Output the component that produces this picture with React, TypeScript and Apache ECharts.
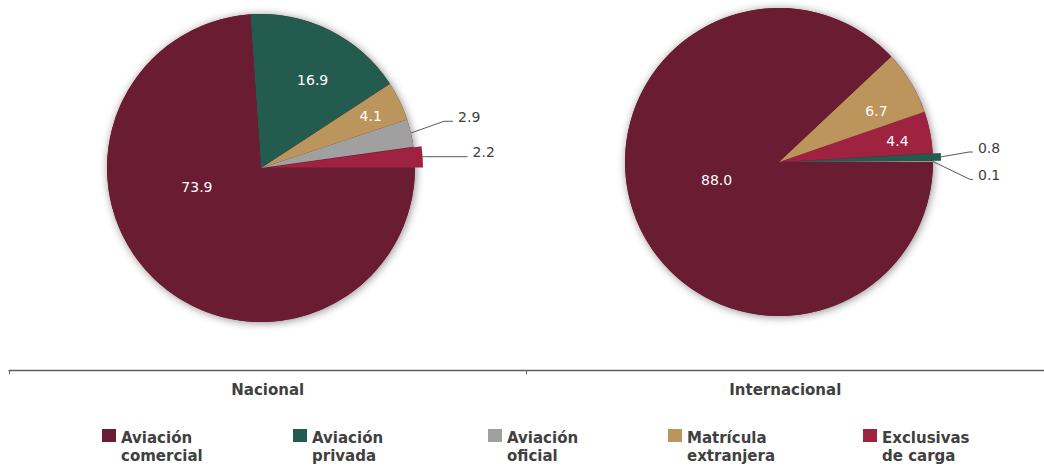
import React, { useEffect, useRef } from "react";
import * as echarts from "echarts";

// ---- data ----
const categories = [
  "Aviación comercial",
  "Aviación privada",
  "Aviación oficial",
  "Matrícula extranjera",
  "Exclusivas de carga",
];
const colors = ["#691c32", "#235b4e", "#a0a0a0", "#bc955c", "#9f2241"];
const groups = ["Nacional", "Internacional"];
const nacionalValues = [73.9, 16.9, 2.9, 4.1, 2.2];
const internacionalValues = [88.0, 0.8, 0.1, 6.7, 4.4];
// slice order, counter-clockwise from 3 o'clock (indices into categories)
const nacionalOrder = [4, 2, 3, 1, 0];
const internacionalOrder = [2, 1, 4, 3, 0];
const nacionalExploded = 4;
const internacionalExploded = 1;

// ---- label placement tweaks (style only) ----
type Adj = {
  inside: boolean;
  dx?: number;
  dy?: number;
  length?: number;
  length2?: number;
  lineDy?: number;
  textDy?: number;
};
const nacionalAdj: Record<number, Adj> = {
  0: { inside: true, dx: -9.5, dy: -39 },
  1: { inside: true, dx: 16, dy: -16 },
  3: { inside: true, dx: 37.6, dy: -17.6 },
  2: { inside: false, length: 34, length2: 9, lineDy: -4, textDy: -8.5 },
  4: { inside: false, length: 2, length2: 43, lineDy: 0, textDy: -4.5 },
};
const internacionalAdj: Record<number, Adj> = {
  0: { inside: true, dx: 12, dy: -11 },
  3: { inside: true, dx: 29, dy: -10 },
  4: { inside: true, dx: 40, dy: -6 },
  1: { inside: false, length: 28, length2: 4, lineDy: -4, textDy: -8.5 },
  2: { inside: false, length: 37, length2: 3, lineDy: 18, textDy: 13.5 },
};

const FONT = "'DejaVu Sans', sans-serif";
const TEXT = "#404040";

function buildPie(
  values: number[],
  order: number[],
  exploded: number,
  adj: Record<number, Adj>,
  center: number[],
  radius: number
) {
  const data = order.map((ci) => {
    const a = adj[ci];
    return {
      name: categories[ci],
      value: values[ci],
      selected: ci === exploded,
      itemStyle: { color: colors[ci] },
      label: a.inside
        ? { position: "inside", color: "#ffffff" }
        : { position: "outside", color: TEXT },
      labelLine: a.inside
        ? { show: false }
        : { show: true, length: a.length, length2: a.length2 },
    };
  });
  return {
    type: "pie",
    center,
    radius,
    clockwise: false,
    startAngle: 0,
    selectedMode: "single",
    selectedOffset: 8,
    avoidLabelOverlap: false,
    silent: true,
    z: 3,
    emphasis: { disabled: true },
    select: { itemStyle: { borderWidth: 0 } },
    itemStyle: { borderWidth: 0 },
    label: {
      fontFamily: FONT,
      fontSize: 14,
      formatter: (p: any) => Number(p.value).toFixed(1),
    },
    labelLine: {
      smooth: false,
      lineStyle: { color: "#595959", width: 1 },
    },
    labelLayout: (p: any) => {
      const a = adj[order[p.dataIndex]];
      if (!a) return {};
      if (a.inside) return { dx: a.dx, dy: a.dy };
      const pts = p.labelLinePoints;
      if (!pts) return { dy: a.textDy };
      const ld = a.lineDy || 0;
      return {
        dy: a.textDy,
        labelLinePoints: [
          [pts[0][0], pts[0][1]],
          [pts[1][0], pts[1][1] + ld],
          [pts[2][0], pts[2][1] + ld],
        ],
      };
    },
    data,
  };
}

function shadowPie(center: number[], radius: number) {
  return {
    type: "pie",
    center,
    radius,
    silent: true,
    z: 1,
    label: { show: false },
    labelLine: { show: false },
    emphasis: { disabled: true },
    itemStyle: {
      color: "#691c32",
      shadowBlur: 8,
      shadowColor: "rgba(0,0,0,0.45)",
      shadowOffsetX: 1,
      shadowOffsetY: 1,
    },
    data: [{ value: 1, name: "__shadow" }],
  };
}

const legendLefts = [102, 293, 488, 668, 863];

export default function App() {
  const ref = useRef<HTMLDivElement>(null);
  useEffect(() => {
    if (!ref.current) return;
    const chart = echarts.init(ref.current, undefined, { renderer: "svg" });
    const leftCenter = [261, 168];
    const rightCenter = [779, 162];
    const R = 154;
    const legendFont = {
      fontFamily: FONT,
      fontWeight: "bold",
      fontSize: 15,
      color: TEXT,
    };
    chart.setOption({
      animation: false,
      backgroundColor: "#ffffff",
      grid: { left: 9, width: 1042, top: 300, height: 70 },
      xAxis: {
        type: "category",
        data: groups,
        boundaryGap: true,
        axisLine: { show: true, lineStyle: { color: "#5f5f5f", width: 1.4 } },
        axisTick: { show: true, length: 4, alignWithLabel: false, lineStyle: { color: "#5f5f5f" } },
        axisLabel: {
          fontFamily: FONT,
          fontWeight: "bold",
          fontSize: 15,
          color: TEXT,
          margin: 12,
        },
        splitLine: { show: false },
      },
      yAxis: { type: "value", show: false, min: 0, max: 1 },
      legend: categories.map((c, i) => ({
        data: [c],
        left: legendLefts[i],
        top: 429,
        padding: 0,
        icon: "rect",
        itemWidth: 14,
        itemHeight: 13,
        selectedMode: false,
        formatter: (n: string) => {
          const k = n.indexOf(" ");
          return `{t|${n.slice(0, k)}}\n{u|${n.slice(k + 1)}}`;
        },
        textStyle: {
          ...legendFont,
          rich: {
            t: { ...legendFont, lineHeight: 40, verticalAlign: "bottom" },
            u: { ...legendFont, lineHeight: 20 },
          },
        },
      })),
      series: [
        buildPie(nacionalValues, nacionalOrder, nacionalExploded, nacionalAdj, leftCenter, R),
        buildPie(internacionalValues, internacionalOrder, internacionalExploded, internacionalAdj, rightCenter, R),
        shadowPie(leftCenter, R),
        shadowPie(rightCenter, R),
      ],
    });
    return () => chart.dispose();
  }, []);
  return (
    <div
      ref={ref}
      style={{ position: "absolute", left: 0, top: 0, width: 1044, height: 466 }}
    />
  );
}
